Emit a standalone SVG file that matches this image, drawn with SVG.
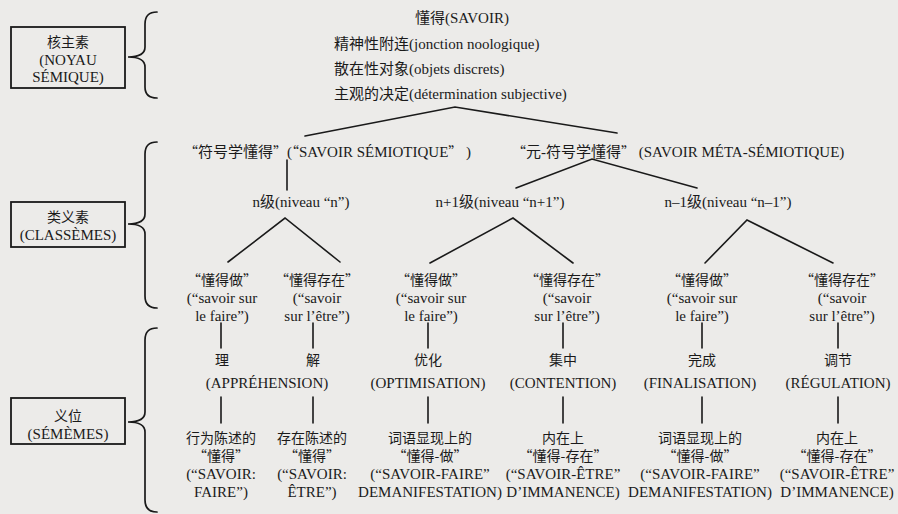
<svg xmlns="http://www.w3.org/2000/svg" width="898" height="514" viewBox="0 0 898 514">
<style>
text { font-family: "Liberation Serif", "Noto Sans CJK SC", serif; font-size: 15px; fill: #1a1a1a; }
.c { text-anchor: middle; }
.zh { font-family: "Noto Sans CJK SC", sans-serif; font-size: 14px; }
.q { font-family: "Noto Sans CJK SC", sans-serif; font-size: 14px; }
.ln { stroke: #1a1a1a; stroke-width: 1.6; fill: none; stroke-linecap: round; }
.box { fill: none; stroke: #1a1a1a; stroke-width: 1.8; }
.br { fill: none; stroke: #1a1a1a; stroke-width: 1.7; stroke-linecap: round; }
</style>
<rect x="0" y="0" width="898" height="514" fill="#ecebe9"/>

<g id="label-noyau">
  <rect class="box" x="11" y="27" width="114" height="61"/>
  <text class="c zh" x="68" y="47">核主素</text>
  <text class="c" x="68" y="65">(NOYAU</text>
  <text class="c" x="68" y="82">SÉMIQUE)</text>
  <path class="br" d="M157,12 Q145,12 145,24 L145,47 Q145,57 128,57 Q145,57 145,67 L145,87 Q145,98 157,98"/>
</g>
<g id="label-classemes">
  <rect class="box" x="11" y="202" width="114" height="45"/>
  <text class="c zh" x="68" y="222">类义素</text>
  <text class="c" x="68" y="240">(CLASSÈMES)</text>
  <path class="br" d="M157,142 Q145,142 145,154 L145,214 Q145,224 128,224 Q145,224 145,234 L145,296 Q145,308 157,308"/>
</g>
<g id="label-sememes">
  <rect class="box" x="11" y="398" width="114" height="46"/>
  <text class="c zh" x="68" y="421">义位</text>
  <text class="c" x="68" y="439">(SÉMÈMES)</text>
  <path class="br" d="M157,328 Q145,328 145,340 L145,412 Q145,422 128,422 Q145,422 145,432 L145,500 Q145,512 157,512"/>
</g>

<g id="connectors">
  <path class="ln" d="M305,136 L455,107 L617,133"/>
  <path class="ln" d="M287,160 L287,190"/>
  <path class="ln" d="M516,188 L592,159 L697,188"/>
  <path class="ln" d="M228,262 L285,218 L340,262"/>
  <path class="ln" d="M430,263 L513,218 L573,263"/>
  <path class="ln" d="M705,263 L747,220 L833,263"/>
  <path class="ln" d="M221,323 L221,348 M313,323 L313,348 M428,323 L428,348 M563,323 L563,348 M702,323 L702,348 M838,323 L838,348"/>
  <path class="ln" d="M221,397 L221,423 M313,397 L313,423 M428,397 L428,423 M563,397 L563,423 M702,397 L702,423 M838,397 L838,423"/>
</g>

<g id="savoir">
  <text x="415" y="23">懂得(SAVOIR)</text>
  <text x="334" y="49">精神性附连(jonction noologique)</text>
  <text x="334" y="74">散在性对象(objets discrets)</text>
  <text x="334" y="99">主观的决定(détermination subjective)</text>
</g>

<g id="savoir-semiotique">
  <text x="184" y="157"><tspan class="q">“</tspan>符号学懂得<tspan class="q">”</tspan>(<tspan class="q">“</tspan>SAVOIR SÉMIOTIQUE<tspan class="q">”</tspan> )</text>
</g>
<g id="savoir-meta-semiotique">
  <text x="512" y="157"><tspan class="q">“</tspan>元-符号学懂得<tspan class="q">”</tspan> (SAVOIR MÉTA-SÉMIOTIQUE)</text>
</g>

<g id="niveau-n"><text class="c" x="301" y="207">n级(niveau “n”)</text></g>
<g id="niveau-n-plus-1"><text class="c" x="500" y="207">n+1级(niveau “n+1”)</text></g>
<g id="niveau-n-minus-1"><text class="c" x="728" y="207">n–1级(niveau “n–1”)</text></g>

<g id="leaf-1">
  <text class="c zh" x="222" y="285">“懂得做”</text>
  <text class="c" x="222" y="303">(“savoir sur</text>
  <text class="c" x="222" y="321">le faire”)</text>
</g>
<g id="leaf-2">
  <text class="c zh" x="317" y="285">“懂得存在”</text>
  <text class="c" x="317" y="303">(“savoir</text>
  <text class="c" x="317" y="321">sur l’être”)</text>
</g>
<g id="leaf-3">
  <text class="c zh" x="431" y="285">“懂得做”</text>
  <text class="c" x="431" y="303">(“savoir sur</text>
  <text class="c" x="431" y="321">le faire”)</text>
</g>
<g id="leaf-4">
  <text class="c zh" x="567" y="285">“懂得存在”</text>
  <text class="c" x="567" y="303">(“savoir</text>
  <text class="c" x="567" y="321">sur l’être”)</text>
</g>
<g id="leaf-5">
  <text class="c zh" x="702" y="285">“懂得做”</text>
  <text class="c" x="702" y="303">(“savoir sur</text>
  <text class="c" x="702" y="321">le faire”)</text>
</g>
<g id="leaf-6">
  <text class="c zh" x="842" y="285">“懂得存在”</text>
  <text class="c" x="842" y="303">(“savoir</text>
  <text class="c" x="842" y="321">sur l’être”)</text>
</g>

<g id="apprehension">
  <text class="c zh" x="222" y="365">理</text>
  <text class="c zh" x="313" y="365">解</text>
  <text class="c" x="267" y="388">(APPRÉHENSION)</text>
</g>
<g id="optimisation">
  <text class="c zh" x="428" y="365">优化</text>
  <text class="c" x="428" y="388">(OPTIMISATION)</text>
</g>
<g id="contention">
  <text class="c zh" x="563" y="365">集中</text>
  <text class="c" x="563" y="388">(CONTENTION)</text>
</g>
<g id="finalisation">
  <text class="c zh" x="702" y="365">完成</text>
  <text class="c" x="700" y="388">(FINALISATION)</text>
</g>
<g id="regulation">
  <text class="c zh" x="838" y="365">调节</text>
  <text class="c" x="838" y="388">(RÉGULATION)</text>
</g>

<g id="savoir-faire">
  <text class="c zh" x="221" y="443">行为陈述的</text>
  <text class="c zh" x="221" y="461">“懂得”</text>
  <text class="c" x="221" y="479">(“SAVOIR:</text>
  <text class="c" x="221" y="497">FAIRE”)</text>
</g>
<g id="savoir-etre">
  <text class="c zh" x="312" y="443">存在陈述的</text>
  <text class="c zh" x="312" y="461">“懂得”</text>
  <text class="c" x="312" y="479">(“SAVOIR:</text>
  <text class="c" x="312" y="497">ÊTRE”)</text>
</g>
<g id="savoir-faire-manifestation-1">
  <text class="c zh" x="430" y="443">词语显现上的</text>
  <text class="c zh" x="430" y="461">“懂得-做”</text>
  <text class="c" x="430" y="479">(“SAVOIR-FAIRE”</text>
  <text class="c" x="430" y="497">DEMANIFESTATION)</text>
</g>
<g id="savoir-etre-immanence-1">
  <text class="c zh" x="563" y="443">内在上</text>
  <text class="c zh" x="563" y="461">“懂得-存在”</text>
  <text class="c" x="563" y="479">(“SAVOIR-ÊTRE”</text>
  <text class="c" x="563" y="497">D’IMMANENCE)</text>
</g>
<g id="savoir-faire-manifestation-2">
  <text class="c zh" x="700" y="443">词语显现上的</text>
  <text class="c zh" x="700" y="461">“懂得-做”</text>
  <text class="c" x="700" y="479">(“SAVOIR-FAIRE”</text>
  <text class="c" x="700" y="497">DEMANIFESTATION)</text>
</g>
<g id="savoir-etre-immanence-2">
  <text class="c zh" x="837" y="443">内在上</text>
  <text class="c zh" x="837" y="461">“懂得-存在”</text>
  <text class="c" x="837" y="479">(“SAVOIR-ÊTRE”</text>
  <text class="c" x="837" y="497">D’IMMANENCE)</text>
</g>
</svg>
